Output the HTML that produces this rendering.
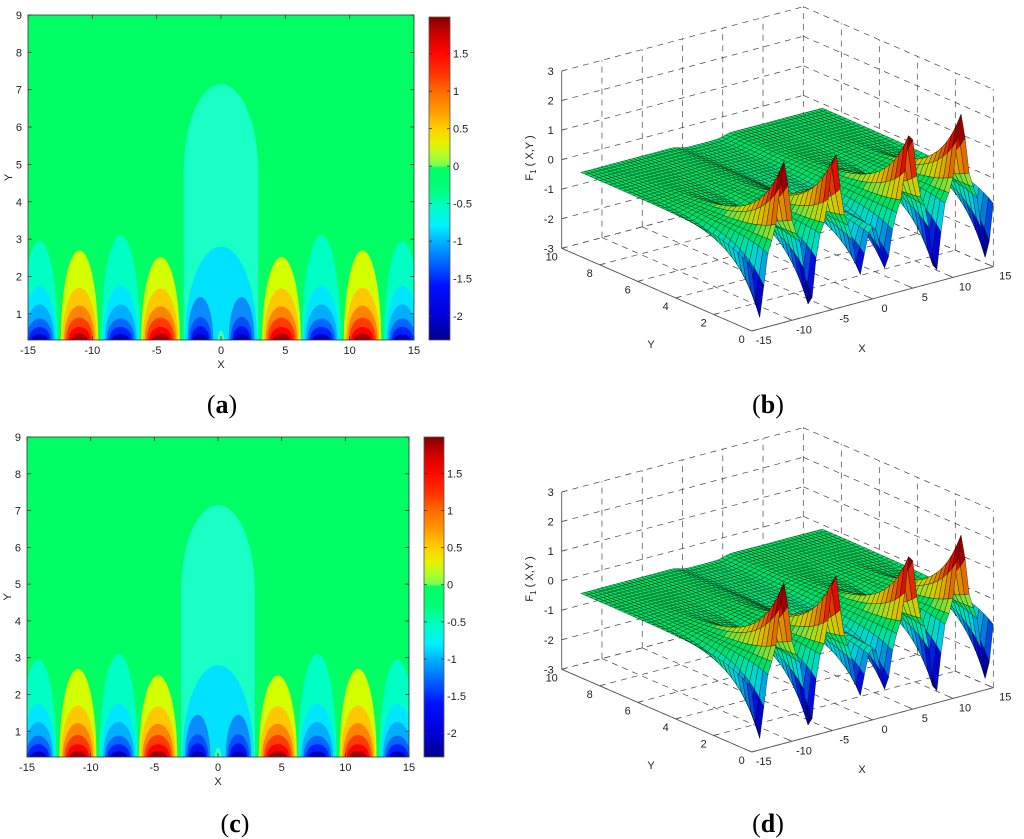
<!DOCTYPE html>
<html><head><meta charset="utf-8">
<style>
body{margin:0;background:#fff;}
svg{display:block;font-family:"Liberation Sans",sans-serif;}
.tk{font-size:11px;fill:#222;}
.pl{font-family:"Liberation Serif",serif;font-size:26px;fill:#000;}
</style></head>
<body>
<svg id="fig" width="1024" height="839" viewBox="0 0 1024 839" xmlns="http://www.w3.org/2000/svg">
<defs>
<linearGradient id="cbgrad" x1="0" y1="1" x2="0" y2="0"></linearGradient>
<clipPath id="clipA"><rect x="28" y="15" width="386" height="325"/></clipPath>
<clipPath id="clipC"><rect x="27" y="437" width="382" height="320"/></clipPath>
</defs>
<text class="pl" x="222" y="413" text-anchor="middle">(<tspan font-weight="bold">a</tspan>)</text>
<text class="pl" x="768" y="413" text-anchor="middle">(<tspan font-weight="bold">b</tspan>)</text>
<text class="pl" x="235" y="832" text-anchor="middle">(<tspan font-weight="bold">c</tspan>)</text>
<text class="pl" x="768" y="832" text-anchor="middle">(<tspan font-weight="bold">d</tspan>)</text>
</svg>
<script>
// ---------- contour data ----------
const lobeCenters = [-14.1, -11, -7.8, -4.7, -1.6, 1.6, 4.7, 7.8, 11, 14.1];
const lobeHalfWidths = [1.4, 1.45, 1.5, 1.5, 1.0, 1.0, 1.5, 1.5, 1.45, 1.4];
const lobeKinds = ['neg','pos','neg','pos','mid','mid','pos','neg','pos','neg'];
const lobeBandHeights = [
  [2.95,1.75,1.25,0.88,0.65,0.45],
  [2.7,1.7,1.22,0.9,0.65,0.47],
  [3.1,1.75,1.25,0.88,0.65,0.45],
  [2.52,1.68,1.2,0.9,0.65,0.47],
  [1.45,0.92,0.67,0.45],
  [1.45,0.92,0.67,0.45],
  [2.52,1.68,1.2,0.9,0.65,0.47],
  [3.1,1.75,1.25,0.88,0.65,0.45],
  [2.7,1.7,1.22,0.9,0.65,0.47],
  [2.95,1.75,1.25,0.88,0.65,0.45]
];
const domeOuter = {halfWidth:2.9, shoulder:4.8, height:7.15};
const domeInner = {halfWidth:2.8, height:2.8};
const xTicks = [-15,-10,-5,0,5,10,15];
const yTicks = [1,2,3,4,5,6,7,8,9];
const cbTicks = [1.5,1,0.5,0,-0.5,-1,-1.5,-2];
const cbStopValues = [-2.32,-2,-1.6,-1.25,-1,-0.8,-0.5,-0.3,-0.02,0.0,0.12,0.3,0.5,0.75,1,1.25,1.5,1.75,1.99];
const cbStopColors = ['#00008a','#0000d8','#0010ff','#0070ff','#00b4ff','#00f0ff','#00ffb8','#00ff78','#00ff64','#70ff50','#a8ff30','#e8f000','#ffd000','#ff9800','#ff6a00','#ff3000','#ff0800','#d00000','#800000'];
const bandColors = {
  neg:['#00ffc4','#00e6ff','#00b0ff','#0068ff','#0020ff','#0000b8'],
  pos:['#d4ff00','#ffc800','#ff8400','#ff3c00','#ff0000','#a80000'],
  mid:['#0a8cff','#0050ff','#0010f0','#0000b0']
};

// ---------- surface data ----------
const surfCenters = [-14.1,-11,-7.8,-4.7,-1.6,1.6,4.7,7.8,11,14.1];
const surfAmps = [-2.5,2.6,-2.6,2.5,-1.6,-1.6,2.5,-2.6,2.6,-2.5];
const surfWidth = 0.8;
const surfDecay = 1.3;
const surfBase = -0.15;
const surfCenterAmp = -0.35;
const zTicks = [3,2,1,0,-1,-2,-3];
const yTicks3 = [10,8,6,4,2,0];
const xTicks3 = [-15,-10,-5,0,5,10,15];

const NS='http://www.w3.org/2000/svg';
const svg=document.getElementById('fig');
function el(tag,attrs,parent){const e=document.createElementNS(NS,tag);for(const k in attrs)e.setAttribute(k,attrs[k]);(parent||svg).appendChild(e);return e;}

const grad=document.getElementById('cbgrad');
cbStopValues.forEach((v,i)=>{el('stop',{offset:((v+2.32)/4.31).toFixed(4),'stop-color':cbStopColors[i]},grad);});

function hex(c){return [parseInt(c.slice(1,3),16),parseInt(c.slice(3,5),16),parseInt(c.slice(5,7),16)];}
function cmap(v,dark){
  v=Math.max(cbStopValues[0],Math.min(cbStopValues[cbStopValues.length-1],v));
  let i=0;while(i<cbStopValues.length-2&&v>cbStopValues[i+1])i++;
  const t=(v-cbStopValues[i])/(cbStopValues[i+1]-cbStopValues[i]||1);
  const a=hex(cbStopColors[i]),b=hex(cbStopColors[i+1]);
  return 'rgb('+a.map((x,k)=>Math.round((x+(b[k]-x)*t)*dark)).join(',')+')';
}

function contourPanel(tag,box,cb,clipId){
  const g=el('g',{});
  
  
  const sx=x=>box.x0+(x+15)/30*(box.x1-box.x0);
  const sy=y=>box.yb-(y-0.3)/8.7*(box.yb-box.yt);
  const inner=el('g',{'clip-path':'url(#'+clipId+')'},g);
  const bg=el('rect',{x:box.x0,y:box.yt,width:box.x1-box.x0,height:box.yb-box.yt,fill:'#00ff64'},inner);
  
  
  const dw=domeOuter.halfWidth, ds=domeOuter.shoulder, dh=domeOuter.height;
  const d1=el('path',{d:`M${sx(-dw)},${box.yb} L${sx(-dw)},${sy(ds)} A${sx(dw)-sx(0)},${sy(ds)-sy(dh)} 0 0 1 ${sx(dw)},${sy(ds)} L${sx(dw)},${box.yb} Z`,fill:'#1affc6'},inner);
  
  
  const iw=domeInner.halfWidth, ih=domeInner.height;
  const d2=el('path',{d:`M${sx(-iw)},${box.yb} A${sx(iw)-sx(0)},${box.yb-sy(ih)} 0 0 1 ${sx(iw)},${box.yb} Z`,fill:'#00e2ff'},inner);
  
  
  lobeCenters.forEach((c,i)=>{
    const hs=lobeBandHeights[i], cols=bandColors[lobeKinds[i]];
    const fr=[1,0.92,0.82,0.72,0.6,0.45];
    hs.forEach((h,k)=>{
      const hw=lobeHalfWidths[i]*(lobeKinds[i]==='mid'?[1,0.85,0.7,0.55][k]:fr[k]);
      const p=el('path',{d:`M${sx(c-hw)},${box.yb} A${sx(c+hw)-sx(c)},${box.yb-sy(h)} 0 0 1 ${sx(c+hw)},${box.yb} Z`,fill:cols[k]},inner);
      
      
    });
  });
  const sp=el('path',{d:`M${sx(-0.3)},${box.yb} Q${sx(0)},${sy(0.8)} ${sx(0.3)},${box.yb} Z`,fill:'#40ffb0'},inner);
  
  
  el('rect',{x:box.x0,y:box.yt,width:box.x1-box.x0,height:box.yb-box.yt,fill:'none',stroke:'#333','stroke-width':0.8},g);
  xTicks.forEach(t=>{
    const x=sx(t);
    el('line',{x1:x,y1:box.yb,x2:x,y2:box.yb-4,stroke:'#333','stroke-width':0.8},g);
    el('line',{x1:x,y1:box.yt,x2:x,y2:box.yt+4,stroke:'#333','stroke-width':0.8},g);
    const tx=el('text',{x:x,y:box.yb+14,class:'tk','text-anchor':'middle'},g);tx.textContent=t;
    
    
  });
  yTicks.forEach(t=>{
    const y=sy(t);
    el('line',{x1:box.x0,y1:y,x2:box.x0+4,y2:y,stroke:'#333','stroke-width':0.8},g);
    el('line',{x1:box.x1,y1:y,x2:box.x1-4,y2:y,stroke:'#333','stroke-width':0.8},g);
    const tx=el('text',{x:box.x0-6,y:y+4,class:'tk','text-anchor':'end'},g);tx.textContent=t;
    
    
  });
  const xl=el('text',{x:(box.x0+box.x1)/2,y:box.yb+28,class:'tk','text-anchor':'middle'},g);xl.textContent='X';
  
  
  const yl=el('text',{x:0,y:0,class:'tk','text-anchor':'middle',transform:`translate(${box.x0-16},${(box.yt+box.yb)/2}) rotate(-90)`},g);yl.textContent='Y';
  
  
  const cg=el('g',{},g);
  
  
  el('rect',{x:cb.x0,y:cb.yt,width:cb.x1-cb.x0,height:cb.yb-cb.yt,fill:'url(#cbgrad)',stroke:'#555','stroke-width':0.8},cg);
  const cy=v=>cb.yb-(v+2.32)/4.31*(cb.yb-cb.yt);
  cbTicks.forEach(t=>{
    const y=cy(t);
    el('line',{x1:cb.x0,y1:y,x2:cb.x0+3,y2:y,stroke:'#333','stroke-width':0.8},cg);
    el('line',{x1:cb.x1,y1:y,x2:cb.x1-3,y2:y,stroke:'#333','stroke-width':0.8},cg);
    const tx=el('text',{x:cb.x1+3,y:y+4,class:'tk'},cg);tx.textContent=t;
    
    
  });
}
contourPanel('a',{x0:28,x1:414,yt:15,yb:340},{x0:429,x1:450,yt:17,yb:340},'clipA');
contourPanel('c',{x0:27,x1:409,yt:437,yb:757},{x0:424,x1:444,yt:437,yb:757},'clipC');

// ---------- 3D surfaces ----------
function F(X,Y){
  let z=surfBase+surfCenterAmp*Math.exp(-Math.pow(X/2.9,6))*Math.exp(-Y/8);
  surfCenters.forEach((c,i)=>{z+=surfAmps[i]*Math.exp(-Math.pow((X-c)/surfWidth,2))*Math.exp(-Y/surfDecay);});
  return z;
}
function surfPanel(tag,oy){
  const g=el('g',{});
  
  
  const P=(X,Y,Z)=>[561.7+(X+15)/30*241.6+(10-Y)/10*190, 248.3+oy-(X+15)/30*64.3+(10-Y)/10*82.7-(Z+3)*29.55];
  const dash={stroke:'#444','stroke-width':0.7,'stroke-dasharray':'6,5',fill:'none'};
  const L=(a,b,at)=>el('line',Object.assign({x1:a[0],y1:a[1],x2:b[0],y2:b[1]},at),g);
  zTicks.forEach(z=>{L(P(-15,10,z),P(15,10,z),dash);L(P(15,10,z),P(15,0,z),dash);});
  xTicks3.forEach(x=>{if(x>-15)L(P(x,10,-3),P(x,10,3),dash);L(P(x,10,-3),P(x,0,-3),dash);});
  yTicks3.forEach(y=>{if(y<10)L(P(15,y,-3),P(15,y,3),dash);L(P(-15,y,-3),P(15,y,-3),dash);});
  const xs=[],ys=[];
  for(let x=-15;x<=15.001;x+=0.5)xs.push(x);
  for(let y=0;y<=9.001;y+=0.25)ys.push(y);
  const quads=[];
  for(let i=0;i<xs.length-1;i++)for(let j=0;j<ys.length-1;j++){
    const c=[[xs[i],ys[j]],[xs[i+1],ys[j]],[xs[i+1],ys[j+1]],[xs[i],ys[j+1]]];
    const zs=c.map(p=>F(p[0],p[1]));
    const zm=(zs[0]+zs[1]+zs[2]+zs[3])/4;
    const xm=(xs[i]+xs[i+1])/2, ym=(ys[j]+ys[j+1])/2;
    quads.push({pts:c.map((p,k)=>P(p[0],p[1],zs[k])),z:zm,d:(xm+15)/30*0.6+ym/10*0.8});
  }
  quads.sort((a,b)=>b.d-a.d);
  const sg=el('g',{stroke:'#000','stroke-width':0.4,'stroke-opacity':0.8},g);
  
  
  quads.forEach(q=>{
    el('polygon',{points:q.pts.map(p=>p[0].toFixed(1)+','+p[1].toFixed(1)).join(' '),fill:cmap(q.z,0.88)},sg);
  });
  const solid={stroke:'#555','stroke-width':0.9};
  L(P(-15,10,-3),P(-15,10,3),solid);
  L(P(-15,10,-3),P(-15,0,-3),solid);
  L(P(-15,0,-3),P(15,0,-3),solid);
  zTicks.forEach(z=>{const a=P(-15,10,z);L(a,[a[0]+5,a[1]-1.3],solid);
    const t=el('text',{x:a[0]-8,y:a[1]+4,class:'tk','text-anchor':'end'},g);t.textContent=z;
    
    });
  yTicks3.forEach(y=>{const a=P(-15,y,-3);L(a,[a[0]+5,a[1]-1.3],solid);
    const t=el('text',{x:a[0]-10,y:a[1]+12,class:'tk','text-anchor':'middle'},g);t.textContent=y;
    
    });
  xTicks3.forEach(x=>{const a=P(x,0,-3);L(a,[a[0]-4,a[1]-1.8],solid);
    const t=el('text',{x:a[0]+12,y:a[1]+13,class:'tk','text-anchor':'middle'},g);t.textContent=x;
    
    });
  const yl=el('text',{x:651,y:348+oy,class:'tk','text-anchor':'middle'},g);yl.textContent='Y';
  
  
  const xl=el('text',{x:862,y:352+oy,class:'tk','text-anchor':'middle'},g);xl.textContent='X';
  
  
  const zl=el('text',{x:0,y:0,class:'tk','text-anchor':'middle',transform:`translate(533,${158+oy}) rotate(-90)`},g);
  zl.innerHTML='F<tspan font-size="8" dy="3">1</tspan><tspan dy="-3"> ( X,Y )</tspan>';
  
  
}
surfPanel('b',0);
surfPanel('d',421);
</script>
</body></html>
